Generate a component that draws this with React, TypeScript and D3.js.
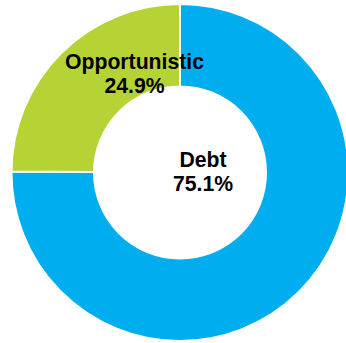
import React from "react";
import * as d3 from "d3";

const categories = ["Debt", "Opportunistic"];
const values = [75.1, 24.9];
const colors = ["#00AEEF", "#B5D334"];
const labelPos: [number, number][] = [
  [203, 166.5],
  [134.5, 68.5],
];

const W = 346;
const H = 343;
const cx = 180;
const cy = 172.5;
const outerR = 168.5;
const innerR = 86;

export default function App() {
  const pie = d3
    .pie<number>()
    .sort(null)
    .startAngle(0)
    .endAngle(2 * Math.PI)(values);
  const arc = d3.arc<d3.PieArcDatum<number>>().innerRadius(innerR).outerRadius(outerR);
  return (
    <svg
      width={W}
      height={H}
      style={{ position: "absolute", left: 0, top: 0, background: "#fff" }}
    >
      <g transform={`translate(${cx},${cy})`}>
        {pie.map((d, i) => (
          <path key={i} d={arc(d) || ""} fill={colors[i]} stroke="#fff" strokeWidth={2} />
        ))}
      </g>
      {categories.map((c, i) => (
        <text
          key={c}
          x={labelPos[i][0]}
          y={labelPos[i][1]}
          textAnchor="middle"
          fontFamily="Liberation Sans, Arial, sans-serif"
          fontWeight="bold"
          fontSize={21.2}
          fill="#000"
        >
          <tspan x={labelPos[i][0]}>{c}</tspan>
          <tspan x={labelPos[i][0]} dy={24.5}>
            {values[i].toFixed(1)}%
          </tspan>
        </text>
      ))}
    </svg>
  );
}
